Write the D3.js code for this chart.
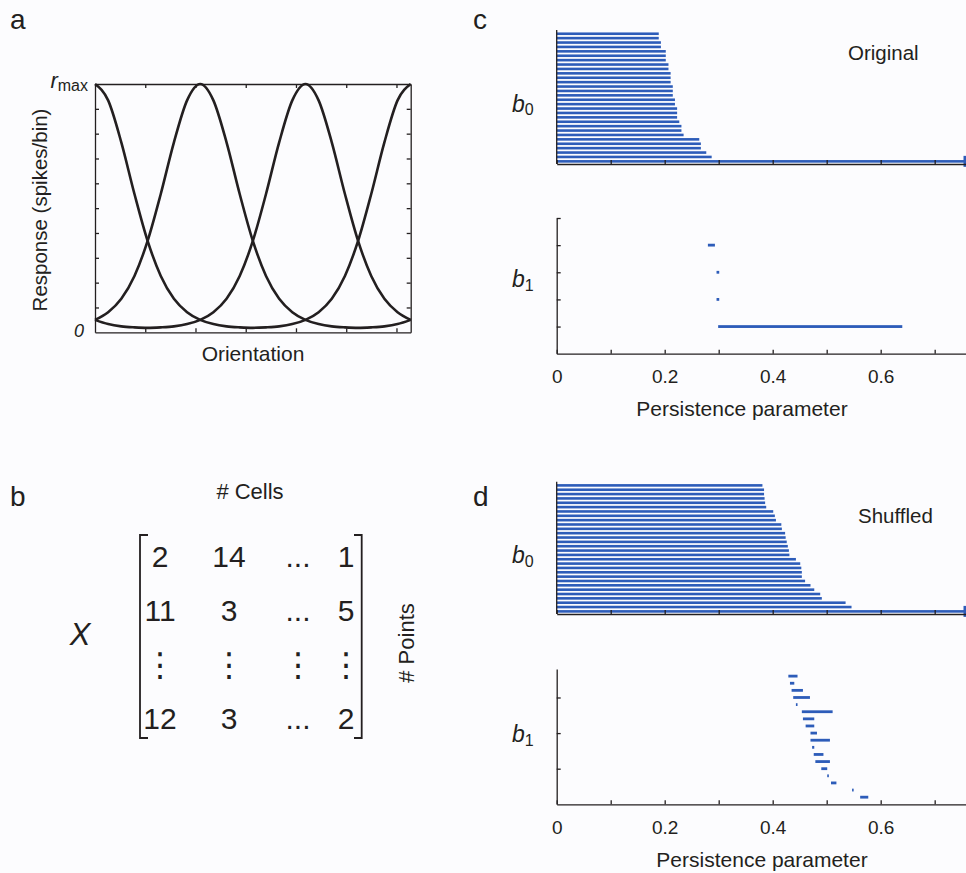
<!DOCTYPE html>
<html>
<head>
<meta charset="utf-8">
<script src="https://cdn.jsdelivr.net/npm/d3@7"></script>
<style>
  body { margin: 0; background: #fcfcfe; }
  svg { display: block; font-family: "Liberation Sans", Arial, Helvetica, sans-serif; }
</style>
</head>
<body>
<svg width="966" height="873"></svg>
<script>
var orientationDeg = [0,15,30,45,60,75,90,105,120,135,150,165,180,195,210,225,240,255,270,285,300,315,330,345,360];
var curvePeak0   = [1,.934,.765,.557,.368,.227,.135,.081,.050,.033,.024,.020,.018,.020,.024,.033,.050,.081,.135,.227,.368,.557,.765,.934,1];
var curvePeak120 = [.050,.081,.135,.227,.368,.557,.765,.934,1,.934,.765,.557,.368,.227,.135,.081,.050,.033,.024,.020,.018,.020,.024,.033,.050];
var curvePeak240 = [.050,.033,.024,.020,.018,.020,.024,.033,.050,.081,.135,.227,.368,.557,.765,.934,1,.934,.765,.557,.368,.227,.135,.081,.050];
var orientTicksRad = [1,2,3,4,5,6];
var responseTicks = [0.1,0.2,0.3,0.4,0.5,0.6,0.7,0.8,0.9];

// ---- panel b : data matrix ----
var matrixRows = [
  ["2","14","...","1"],
  ["11","3","...","5"],
  ["\u22EE","\u22EE","\u22EE","\u22EE"],
  ["12","3","...","2"]
];

// ---- panel c : original barcode ----
var origB0Death = [0.189,0.189,0.193,0.193,0.202,0.202,0.202,0.207,0.207,0.211,0.211,0.211,
  0.215,0.215,0.215,0.219,0.219,0.223,0.223,0.223,0.227,0.231,0.231,0.235,0.264,0.267,0.267,
  0.277,0.287,Infinity];
var origB1Birth = [0.299,0.296,0.296,0.280];   // listed bottom row first
var origB1Death = [0.640,0.301,0.301,0.293];

// ---- panel d : shuffled barcode ----
var shufB0Death = [0.381,0.384,0.384,0.385,0.386,0.388,0.401,0.404,0.406,0.416,0.417,0.423,
  0.424,0.426,0.428,0.430,0.431,0.443,0.451,0.453,0.454,0.454,0.460,0.470,0.477,0.488,0.491,
  0.535,0.546,Infinity];
var shufB1Birth = [0.562,0.547,0.508,0.501,0.490,0.479,0.476,0.473,0.470,0.470,0.461,0.456,0.454,0.443,0.438,0.435,0.432,0.429];
var shufB1Death = [0.577,0.549,0.518,0.504,0.501,0.506,0.494,0.477,0.506,0.482,0.477,0.477,0.511,0.446,0.469,0.456,0.440,0.446];

var persistTicks = [0,0.1,0.2,0.3,0.4,0.5,0.6,0.7];
var persistLabelled = [0,0.2,0.4,0.6];

var ink = "#231f20", barBlue = "#2d5cb9";
var svg = d3.select("svg");
svg.append("rect").attr("width",966).attr("height",873).attr("fill","#fcfcfe");

function styleAxis(g) {
  g.attr("font-family", null).attr("font-size", 19);
  g.selectAll("path,line").attr("stroke", ink).attr("stroke-width", 1.3);
  g.selectAll("text").attr("fill", ink);
}

function panelLetter(t, x, y) {
  svg.append("text").attr("x",x).attr("y",y).attr("font-size",28).attr("fill",ink).text(t);
}
panelLetter("a", 10, 29); panelLetter("b", 10, 506);
panelLetter("c", 473, 29); panelLetter("d", 473, 506);

// ================= panel a =================
var ax = d3.scaleLinear().domain([0, 2*Math.PI]).range([95, 410.7]);
var ay = d3.scaleLinear().domain([0, 1]).range([332.3, 84]);

svg.append("g").attr("transform","translate(0,332.3)")
  .call(d3.axisBottom(ax).tickValues(orientTicksRad).tickSizeInner(-4).tickSizeOuter(0).tickFormat(""))
  .call(styleAxis);
svg.append("g").attr("transform","translate(0,84)")
  .call(d3.axisTop(ax).tickValues(orientTicksRad).tickSizeInner(-4).tickSizeOuter(0).tickFormat(""))
  .call(styleAxis);
svg.append("g").attr("transform","translate(95,0)")
  .call(d3.axisLeft(ay).tickValues(responseTicks).tickSizeInner(-4).tickSizeOuter(0).tickFormat(""))
  .call(styleAxis);
svg.append("g").attr("transform","translate(410.7,0)")
  .call(d3.axisRight(ay).tickValues(responseTicks).tickSizeInner(-4).tickSizeOuter(0).tickFormat(""))
  .call(styleAxis);

var tuningLine = d3.line()
  .x(function(d, i) { return ax(orientationDeg[i] * Math.PI / 180); })
  .y(function(d) { return ay(d); })
  .curve(d3.curveMonotoneX);

[curvePeak0, curvePeak120, curvePeak240].forEach(function(c) {
  svg.append("path").datum(c).attr("d", tuningLine)
    .attr("fill","none").attr("stroke", ink).attr("stroke-width", 2.6);
});

var rmax = svg.append("text").attr("x", 88).attr("y", 88).attr("text-anchor","end").attr("fill", ink);
rmax.append("tspan").attr("font-style","italic").attr("font-size",22).text("r");
rmax.append("tspan").attr("font-size",16).attr("dy",3).text("max");
svg.append("text").attr("x", 79).attr("y", 337).attr("text-anchor","middle")
  .attr("font-style","italic").attr("font-size",18).attr("fill",ink).text("0");
svg.append("text").attr("transform","translate(47,210) rotate(-90)").attr("text-anchor","middle")
  .attr("font-size",20.5).attr("fill",ink).text("Response (spikes/bin)");
svg.append("text").attr("x", 253).attr("y", 361).attr("text-anchor","middle")
  .attr("font-size",21).attr("fill",ink).text("Orientation");

// ================= panel b =================
var colX = d3.scaleOrdinal().domain([0,1,2,3]).range([160, 229, 298, 346]);
var rowY = d3.scalePoint().domain([0,1,2,3]).range([556, 718]);

svg.append("text").attr("x",250).attr("y",499).attr("text-anchor","middle")
  .attr("font-size",22).attr("fill",ink).text("# Cells");
svg.append("text").attr("x",80).attr("y",645).attr("text-anchor","middle")
  .attr("font-size",31).attr("font-style","italic").attr("fill",ink).text("X");
svg.append("text").attr("transform","translate(414,643) rotate(-90)").attr("text-anchor","middle")
  .attr("font-size",22).attr("fill",ink).text("# Points");

matrixRows.forEach(function(row, r) {
  svg.append("g").selectAll("text").data(row).enter().append("text")
    .attr("x", function(d, c) { return colX(c); })
    .attr("y", rowY(r) + (r === 2 ? 12 : 10.7))
    .attr("text-anchor","middle")
    .attr("font-size", r === 2 ? 33 : 30)
    .attr("font-family", r === 2 ? "DejaVu Sans" : null)
    .attr("fill", ink)
    .text(function(d) { return d; });
});

var brTop = 535, brBot = 738;
svg.append("path").attr("d","M148,"+brTop+"H140V"+brBot+"H148")
  .attr("fill","none").attr("stroke",ink).attr("stroke-width",1.8);
svg.append("path").attr("d","M354,"+brTop+"H361.7V"+brBot+"H354")
  .attr("fill","none").attr("stroke",ink).attr("stroke-width",1.8);

// ================= panels c, d =================
var px = d3.scaleLinear().domain([0, 0.758]).range([556.7, 966]);

function subLabel(sub, x, y) {
  var t = svg.append("text").attr("x",x).attr("y",y).attr("fill",ink);
  t.append("tspan").attr("font-style","italic").attr("font-size",23).text("b");
  t.append("tspan").attr("font-size",16).attr("dy",3.5).text(sub);
}

function persistencePanel(cfg) {
  // H0 bars
  var y0 = d3.scaleLinear().domain([0.4, 30.85]).range([cfg.b0Bottom, cfg.b0Top]);
  var n = cfg.b0Death.length;
  svg.append("g").selectAll("rect").data(cfg.b0Death).enter().append("rect")
    .attr("x", px(0))
    .attr("y", function(d, i) { return y0(n - i) - 1.3; })
    .attr("width", function(d) { return (isFinite(d) ? px(d) : px.range()[1]) - px(0); })
    .attr("height", 2.6)
    .attr("fill", barBlue);
  svg.append("rect").attr("x", 963.5).attr("y", y0(1) - 5.5).attr("width", 3).attr("height", 11).attr("fill", barBlue);

  svg.append("g").attr("transform","translate(0,"+cfg.b0Bottom+")")
    .call(d3.axisBottom(px).tickValues(persistTicks).tickSizeInner(-4).tickSizeOuter(0).tickFormat(""))
    .call(styleAxis);
  svg.append("line").attr("x1",px(0)).attr("x2",px(0)).attr("y1",cfg.b0Top).attr("y2",cfg.b0Bottom)
    .attr("stroke",ink).attr("stroke-width",1.3);

  // H1 bars
  var y1 = d3.scaleLinear().domain([0, cfg.b1Max]).range([cfg.b1Bottom, cfg.b1Top]);
  svg.append("g").selectAll("rect").data(cfg.b1Birth).enter().append("rect")
    .attr("x", function(d) { return px(d); })
    .attr("y", function(d, i) { return y1(i + 1) - 1.4; })
    .attr("width", function(d, i) { return Math.max(px(cfg.b1Death[i]) - px(d), 1.6); })
    .attr("height", 2.8)
    .attr("fill", barBlue);

  svg.append("g").attr("transform","translate(0,"+cfg.b1Bottom+")")
    .call(d3.axisBottom(px).tickValues(persistTicks).tickSizeInner(-4).tickSizeOuter(0)
      .tickPadding(16)
      .tickFormat(function(d) { return persistLabelled.indexOf(d) >= 0 ? d3.format("")(d) : ""; }))
    .call(styleAxis);
  svg.append("g").attr("transform","translate("+px(0)+",0)")
    .call(d3.axisLeft(y1).tickValues(cfg.b1Ticks).tickSizeInner(-4).tickSizeOuter(0).tickFormat(""))
    .call(styleAxis);

  svg.append("text").attr("x", cfg.xTitleX).attr("y", cfg.b1Bottom + 62.5).attr("text-anchor","middle")
    .attr("font-size",21).attr("fill",ink).text("Persistence parameter");
  svg.append("text").attr("x", cfg.titleX).attr("y", cfg.titleY)
    .attr("font-size",20.5).attr("fill",ink).text(cfg.title);
  subLabel("0", 512, cfg.b0LabelY);
  subLabel("1", 512, cfg.b1LabelY);
}

persistencePanel({
  b0Death: origB0Death, b1Birth: origB1Birth, b1Death: origB1Death,
  b0Top: 30, b0Bottom: 164, b1Top: 218, b1Bottom: 353.7, b1Max: 5, b1Ticks: [1,2,3,4,5],
  title: "Original", titleX: 848, titleY: 60, b0LabelY: 111.5, b1LabelY: 287, xTitleX: 742
});
persistencePanel({
  b0Death: shufB0Death, b1Birth: shufB1Birth, b1Death: shufB1Death,
  b0Top: 481.7, b0Bottom: 614, b1Top: 669, b1Bottom: 804.3, b1Max: 19, b1Ticks: [5,10,15],
  title: "Shuffled", titleX: 858, titleY: 523, b0LabelY: 563, b1LabelY: 742, xTitleX: 762
});
</script>
</body>
</html>
